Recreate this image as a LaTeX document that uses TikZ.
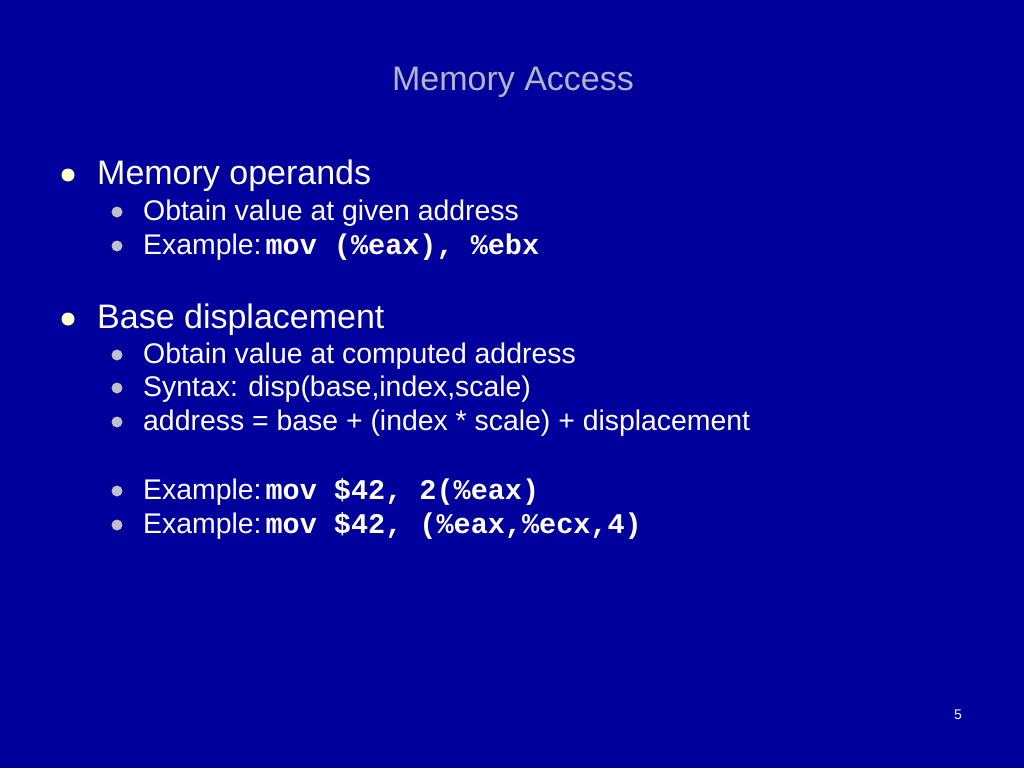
\documentclass[tikz,border=0pt]{standalone}
\usepackage{fontspec}
\setmainfont{Liberation Sans}
\setmonofont{Liberation Mono}
\definecolor{slidebg}{HTML}{00009C}
\definecolor{titlegray}{HTML}{B4B4C8}
\definecolor{dotyellow}{HTML}{FFFFCC}
\definecolor{dotgray}{HTML}{C0C0C8}
\tikzset{
  lvlone/.style={anchor=base west, inner sep=0pt, text=white, font=\fontsize{34}{40}\selectfont},
  lvltwo/.style={anchor=base west, inner sep=0pt, text=white, font=\fontsize{28.4}{34}\selectfont},
  dotone/.style={circle, fill=dotyellow, minimum size=13pt, inner sep=0pt},
  dottwo/.style={circle, fill=dotgray, minimum size=11pt, inner sep=0pt}
}
\newcommand{\code}[1]{\hspace{4pt}{\ttfamily\bfseries\fontsize{28.5}{30}\selectfont #1}}
\begin{document}
\begin{tikzpicture}[x=1pt, y=-1pt]
  \def\xa{97} \def\xb{143}
  \fill[slidebg] (0,0) rectangle (1024,768);
  \useasboundingbox (0,0) rectangle (1024,768);
  \node[anchor=base, inner sep=0pt, text=titlegray, font=\fontsize{34}{40}\selectfont] (title) at (513,90) {Memory Access};
  % first group
  \node[dotone] (d1) at (68,175) {};
  \node[lvlone] (mem) at (\xa,184) {Memory operands};
  \node[dottwo] (d11) at (117,212) {};
  \node[lvltwo] (memval) at (\xb,220) {Obtain value at given address};
  \node[dottwo] (d12) at (117,246) {};
  \node[lvltwo] (memex) at (\xb,254) {Example:\code{mov (\%eax), \%ebx}};
  % second group
  \node[dotone] (d2) at (68,319) {};
  \node[lvlone] (base) at (\xa,328) {Base displacement};
  \node[dottwo] (d21) at (117,355) {};
  \node[lvltwo] (baseval) at (\xb,363) {Obtain value at computed address};
  \node[dottwo] (d22) at (117,388) {};
  \node[lvltwo] (syntax) at (\xb,396) {Syntax: disp(base,index,scale)};
  \node[dottwo] (d23) at (117,422) {};
  \node[lvltwo] (addr) at (\xb,430) {address = base + (index * scale) + displacement};
  \node[dottwo] (d24) at (117,491) {};
  \node[lvltwo] (exone) at (\xb,499) {Example:\code{mov \$42, 2(\%eax)}};
  \node[dottwo] (d25) at (117,525) {};
  \node[lvltwo] (extwo) at (\xb,533) {Example:\code{mov \$42, (\%eax,\%ecx,4)}};
  \node[anchor=base, inner sep=0pt, text=white, font=\fontsize{14}{16}\selectfont] (page) at (958,719) {5};
\end{tikzpicture}
\end{document}
